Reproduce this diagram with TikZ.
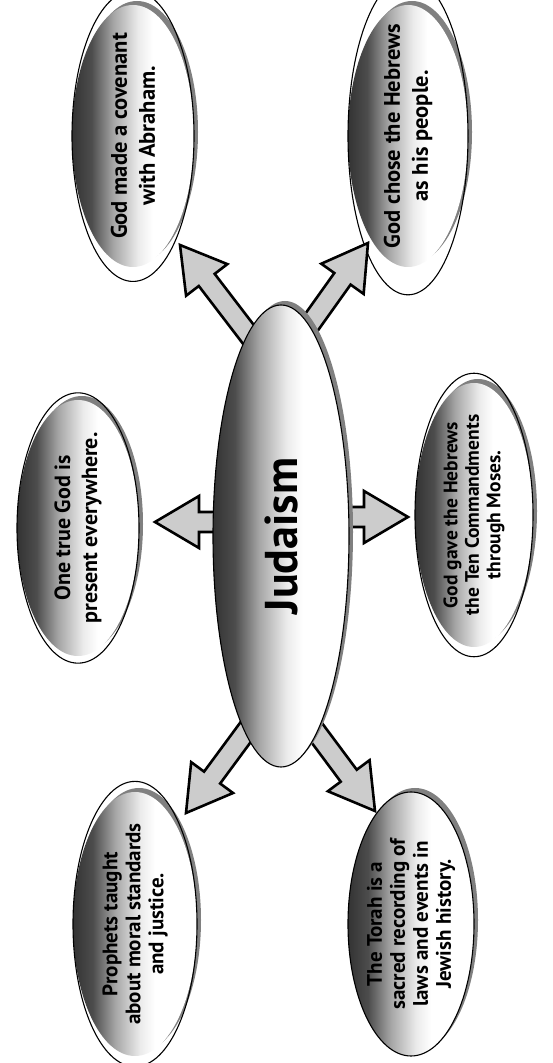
\documentclass[tikz,border=0pt]{standalone}
\usepackage{fontspec}
\setmainfont{PT Sans}
\usetikzlibrary{shapes.geometric,calc}
\pgfdeclarehorizontalshading{orbh}{100bp}{color(0bp)=(black!80); color(25bp)=(black!80); color(33bp)=(black!70); color(42bp)=(black!35); color(52bp)=(black!8); color(58bp)=(white); color(100bp)=(white)}
\tikzset{
  bubble/.style={ellipse, draw=black, line width=1.1pt, rotate=90,
    inner sep=0pt, align=center},
  bubshadow/.style={fill=black!50},
  bubfill/.style={shading=orbh},
  blockarr/.style={draw=black, line width=2.6pt, fill=black!20, line join=miter},
  txtA/.style={font=\bfseries\fontsize{22.5}{28}\selectfont},
  txtG/.style={font=\bfseries\fontsize{22}{27}\selectfont},
  txtB/.style={font=\bfseries\fontsize{19.5}{21.5}\selectfont},
  txtC/.style={font=\bfseries\fontsize{21}{23}\selectfont},
  txtJ/.style={font=\bfseries\fontsize{46}{50}\selectfont},
}
\newcommand\bubble[7]{%
  \fill[bubshadow] (#2+4,#3+4) ellipse [x radius=#5/2, y radius=#4/2];
  \shade[bubfill] (#2,#3) ellipse [x radius=#5/2, y radius=#4/2];
  \node[bubble, #7, minimum width=#4pt, minimum height=#5pt] (#1) at (#2,#3) {#6};
}
\newcommand\blockarrow[2]{%
  \coordinate (h) at ($(#2)!44pt!(#1)$);
  \draw[blockarr] ($(#1)!10pt!-90:(#2)$) -- ($(h)!10pt!-90:(#2)$) -- ($(h)!26pt!-90:(#2)$)
    -- (#2) -- ($(h)!26pt!90:(#2)$) -- ($(h)!10pt!90:(#2)$) -- ($(#1)!10pt!90:(#2)$) -- cycle;
}
\begin{document}
\begin{tikzpicture}[x=1pt,y=1pt]
\fill[white] (0,0) rectangle (552,1063);
\useasboundingbox (0,0) rectangle (552,1063);

% outer bubbles
\bubble{cov}{133}{927}{262}{122}{God made a covenant\\with Abraham.}{txtA}
\bubble{heb}{408}{927}{262}{120}{God chose the Hebrews\\as his people.}{txtA}
\bubble{god}{78}{535}{256}{122}{One true God is\\present everywhere.}{txtG}
\bubble{ten}{474}{548}{264}{118}{God gave the Hebrews\\the Ten Commandments\\through Moses.}{txtB}
\bubble{pro}{135}{139}{264}{124}{Prophets taught\\about moral standards\\and justice.}{txtC}
\bubble{tor}{411}{139}{264}{126}{The Torah is a\\sacred recording of\\laws and events in\\Jewish history.}{txtC}

% arrow ends
\coordinate (sUL) at (255,720);  \coordinate (tUL) at (180,818);
\coordinate (sUR) at (301,726);  \coordinate (tUR) at (368,820);
\coordinate (sLL) at (259,349);  \coordinate (tLL) at (186,250);
\coordinate (sLR) at (308,342);  \coordinate (tLR) at (375,252);
\coordinate (sL)  at (235,541);  \coordinate (tL)  at (155,541);
\coordinate (sR)  at (330,546);  \coordinate (tR)  at (408,546);
\blockarrow{sUL}{tUL}
\blockarrow{sUR}{tUR}
\blockarrow{sLL}{tLL}
\blockarrow{sLR}{tLR}
\blockarrow{sL}{tL}
\blockarrow{sR}{tR}

% central bubble
\bubble{J}{281}{527}{462}{136}{Judaism}{txtJ}
\end{tikzpicture}
\end{document}
